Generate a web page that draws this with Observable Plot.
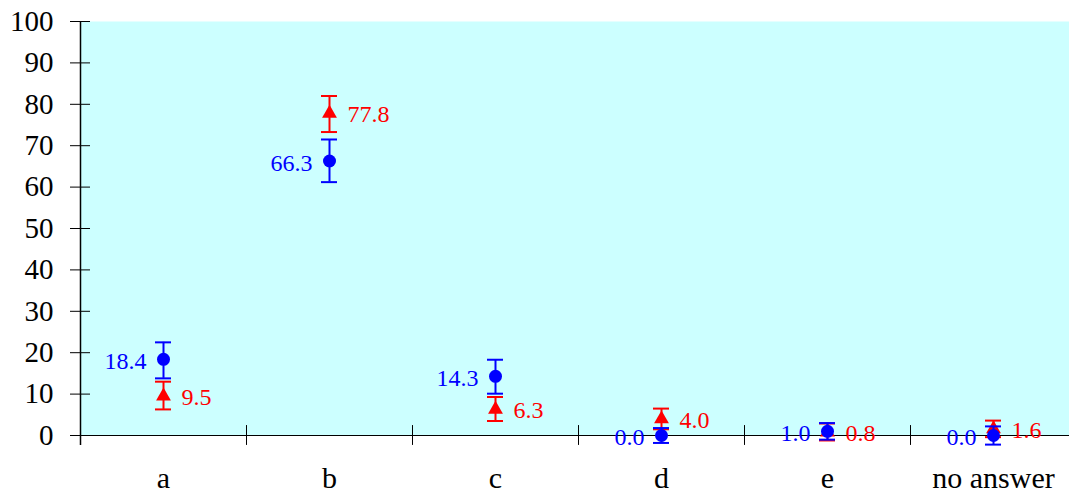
<!DOCTYPE html>
<html>
<head>
<meta charset="utf-8">
<script src="https://cdn.jsdelivr.net/npm/d3@7"></script>
<script src="https://cdn.jsdelivr.net/npm/@observablehq/plot@0.6"></script>
<style>
  html, body { margin: 0; padding: 0; background: #fff; }
  svg { display: block; }
  svg text { font-family: "Liberation Serif", "Times New Roman", Times, serif !important; }
</style>
</head>
<body>
<div id="chart"></div>
<script>
const categories = ["a", "b", "c", "d", "e", "no answer"];
const blueValues = [18.4, 66.3, 14.3, 0.0, 1.0, 0.0];
const blueLow    = [13.8, 61.2, 10.1, -1.8, -1.0, -2.2];
const blueHigh   = [22.5, 71.5, 18.3, 1.8, 3.0, 2.2];
const redValues  = [9.5, 77.8, 6.3, 4.0, 0.8, 1.6];
const redLow     = [6.3, 73.3, 3.5, 1.5, -1.2, -0.4];
const redHigh    = [13.0, 82.0, 9.3, 6.5, 2.9, 3.6];
const yTicks = [0, 10, 20, 30, 40, 50, 60, 70, 80, 90, 100];

const blue = categories.map((c, i) => ({cat: c, v: blueValues[i], lo: blueLow[i], hi: blueHigh[i]}));
const red = categories.map((c, i) => ({cat: c, v: redValues[i], lo: redLow[i], hi: redHigh[i]}));

const font = "Liberation Serif";
const xRange = [80, 1076];
const bw = (xRange[1] - xRange[0]) / categories.length;
const capInset = bw / 2 - 8;

const chart = Plot.plot({
  width: 1069,
  height: 495,
  marginLeft: 80,
  marginRight: 0,
  marginTop: 21,
  marginBottom: 60,
  style: "font-family: 'Liberation Serif', serif; background: #fff; overflow: hidden;",
  x: {domain: categories, range: xRange, padding: 0, axis: null},
  y: {domain: [0, 100], axis: null},
  marks: [
    Plot.frame({fill: "#ccffff", stroke: null}),
    // y axis
    Plot.axisY({ticks: yTicks, tickSize: 10, tickPadding: 17, fontSize: 29, fill: "#000", stroke: "#000", label: null, fontFamily: font}),
    Plot.tickY(yTicks, {y: d => d, x: () => categories[0], insetRight: bw - 10, stroke: "#000"}),
    Plot.ruleX([categories[0]], {x: d => d, dx: -bw / 2, y1: -2.4, y2: 100, stroke: "#000", strokeWidth: 1.5}),
    // x axis
    Plot.ruleY([0], {stroke: "#000", strokeWidth: 1.2}),
    Plot.ruleX(categories.slice(1), {x: d => d, dx: -bw / 2, y1: -2.4, y2: 2.4, stroke: "#000"}),
    Plot.axisX({tickSize: 0, tickPadding: 31, fontSize: 30, fill: "#000", label: null, fontFamily: font}),
    // red series
    Plot.ruleX(red, {x: "cat", y1: "lo", y2: "hi", stroke: "#ff0000", strokeWidth: 2}),
    Plot.tickY(red, {x: "cat", y: "lo", insetLeft: capInset, insetRight: capInset, stroke: "#ff0000", strokeWidth: 2}),
    Plot.tickY(red, {x: "cat", y: "hi", insetLeft: capInset, insetRight: capInset, stroke: "#ff0000", strokeWidth: 2}),
    Plot.dot(red, {x: "cat", y: "v", symbol: "triangle", r: 5.5, fill: "#ff0000", stroke: null}),
    Plot.text(red, {x: "cat", y: "v", text: d => d.v.toFixed(1), textAnchor: "start", dx: 18, dy: 1, fontSize: 24, fill: "#ff0000", fontFamily: font}),
    // blue series
    Plot.ruleX(blue, {x: "cat", y1: "lo", y2: "hi", stroke: "#0000ff", strokeWidth: 2}),
    Plot.tickY(blue, {x: "cat", y: "lo", insetLeft: capInset, insetRight: capInset, stroke: "#0000ff", strokeWidth: 2}),
    Plot.tickY(blue, {x: "cat", y: "hi", insetLeft: capInset, insetRight: capInset, stroke: "#0000ff", strokeWidth: 2}),
    Plot.dot(blue, {x: "cat", y: "v", r: 6.5, fill: "#0000ff", stroke: null}),
    Plot.text(blue, {x: "cat", y: "v", text: d => d.v.toFixed(1), textAnchor: "end", dx: -17, dy: 2, fontSize: 24, fill: "#0000ff", fontFamily: font})
  ]
});
document.getElementById("chart").appendChild(chart);
</script>
</body>
</html>
